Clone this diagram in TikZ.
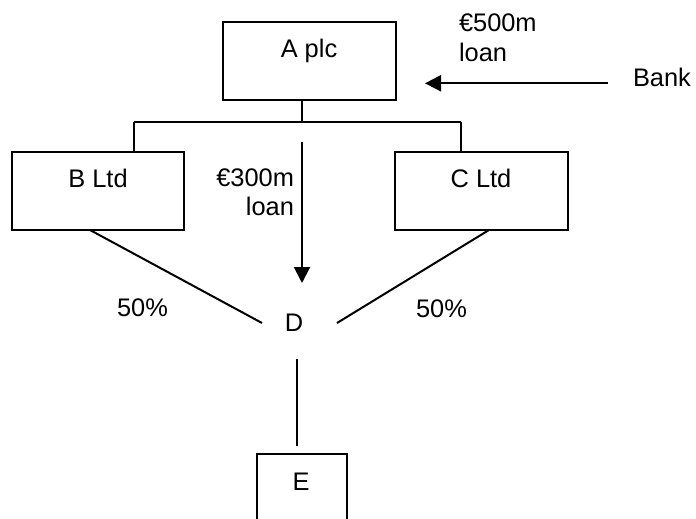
\documentclass[tikz,border=0pt]{standalone}
\usepackage{fontspec}
\setmainfont{Liberation Sans}
\usetikzlibrary{arrows.meta}
\begin{document}
\begin{tikzpicture}[x=0.5pt,y=-0.5pt,
  every node/.style={font=\fontsize{12.7}{15}\selectfont, inner sep=0pt, outer sep=0pt},
  boxnode/.style={draw, line width=1pt, rectangle},
  conn/.style={line width=1pt},
  arr/.style={line width=1pt, -{Triangle[width=8pt,length=8pt]}}]
\useasboundingbox (0,0) rectangle (696,519);
\clip (0,0) rectangle (696,519);
% boxes
\node[boxnode, minimum width=86.5pt, minimum height=39pt] (A) at (309.5,61) {};
\node[boxnode, minimum width=86pt, minimum height=39pt] (B) at (98,191) {};
\node[boxnode, minimum width=86.3pt, minimum height=39pt] (C) at (481.3,191) {};
\node[boxnode, minimum width=45pt, minimum height=50pt] (E) at (301.7,504.3) {};
% texts
\node[anchor=base] (tA) at (309,57.3) {A plc};
\node[anchor=base] (tB) at (98,187.3) {B Ltd};
\node[anchor=base] (tC) at (481,187.3) {C Ltd};
\node[anchor=base] (tE) at (301,490) {E};
\node[anchor=base] (D) at (294,331) {D};
\node[anchor=base east] (l3a) at (294,186.7) {€300m};
\node[anchor=base east] (l3b) at (294,215) {loan};
\node[anchor=base west] (l5a) at (459,31.7) {€500m};
\node[anchor=base west] (l5b) at (459,61.7) {loan};
\node[anchor=base west] (bank) at (633,86.5) {Bank};
\node[anchor=base] (pB) at (142.5,316.7) {50\%};
\node[anchor=base] (pC) at (441.5,317) {50\%};
% coordinates
\coordinate (j) at (302,122);
\coordinate (bl) at (134,122);
\coordinate (br) at (461,122);
\coordinate (bs) at (90,230);
\coordinate (cs) at (489,230);
\coordinate (dl) at (262,323);
\coordinate (dr) at (337,323);
\coordinate (lt) at (302,141.7);
\coordinate (lh) at (302,283);
\coordinate (db) at (297,359);
\coordinate (et) at (297,446);
\coordinate (bk) at (608,83.3);
\coordinate (ak) at (425,83.3);
% connectors
\draw[conn] (A.south -| j) -- (j);
\draw[conn] (bl) -- (br);
\draw[conn] (bl) -- (B.north -| bl);
\draw[conn] (br) -- (C.north -| br);
\draw[arr] (lt) -- (lh);
\draw[conn] (bs) -- (dl);
\draw[conn] (cs) -- (dr);
\draw[conn] (db) -- (et);
\draw[arr] (bk) -- (ak);
\end{tikzpicture}
\end{document}
